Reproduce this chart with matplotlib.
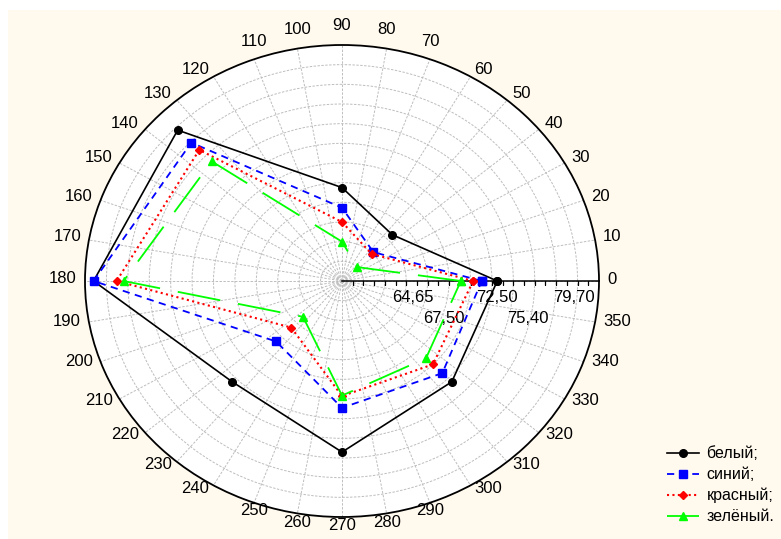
import numpy as np
import matplotlib.pyplot as plt
from matplotlib.patches import Rectangle
from matplotlib.lines import Line2D

plt.rcParams['font.family'] = ['Liberation Sans', 'DejaVu Sans']

# angles (degrees) and values of the four series
angles_deg = [0, 45, 90, 135, 180, 225, 270, 315]
belyi = [72.50, 64.65, 67.50, 79.70, 81.20, 72.50, 75.40, 72.50]
sinii = [71.05, 62.15, 65.45, 77.90, 81.20, 66.70, 70.90, 71.25]
krasnyi = [70.25, 61.90, 64.00, 76.85, 79.05, 64.70, 69.70, 70.00]
zelenyi = [69.10, 60.00, 62.00, 75.20, 78.40, 63.15, 69.65, 69.10]
series_names = ["белый;", "синий;", "красный;", "зелёный."]
r_labels = [64.65, 67.50, 72.50, 75.40, 79.70]
r_min, r_max = 58, 82
theta_labels = list(range(0, 360, 10))

fig = plt.figure(figsize=(7.81, 5.39), dpi=100, facecolor='white')
fig.add_artist(Rectangle((8 / 781, 0), 1, 1 - 10 / 539, transform=fig.transFigure,
                         facecolor='#FFF9EE', edgecolor='none', zorder=-10))

ax = fig.add_axes([85 / 781, 22 / 539, 514 / 781, 472 / 539], projection='polar')
ax.set_aspect('auto')
ax.set_facecolor('white')
ax.set_ylim(r_min, r_max)

ax.set_thetagrids(theta_labels, labels=[])
ax.xaxis.set_minor_locator(plt.FixedLocator(np.deg2rad(np.arange(0, 360, 2))))
ax.tick_params(axis='x', which='major', direction='in', length=6, width=1, colors='black')
ax.tick_params(axis='x', which='minor', direction='in', length=3, width=0.8, colors='black')
ax.set_yticks(np.arange(60, 81, 2))
ax.set_yticklabels([])
ax.grid(True, color='#BDBDBD', linestyle=(0, (2.5, 1.5)), linewidth=0.7)
ax.spines['polar'].set_color('black')
ax.spines['polar'].set_linewidth(1.3)

# angle labels placed just outside the rim
for a in theta_labels:
    t = np.deg2rad(a)
    c, s = np.cos(t), np.sin(t)
    if abs(c) < 0.4:
        ha, ox, oy = 'center', 0, 5 + 14 * s
    else:
        ha, ox, oy = ('left' if c > 0 else 'right'), 8 * c, 2 + 6 * s
    ax.annotate(str(a), xy=(t, r_max), xytext=(ox * 0.72, oy * 0.72), textcoords='offset points',
                ha=ha, va='center', fontsize=12, annotation_clip=False)

# radial axis along 0 degrees
ax.plot([0, 0], [r_min, r_max], color='black', lw=1.1, zorder=3)
ax.plot(np.zeros(r_max - r_min - 1), np.arange(r_min + 1, r_max), ls='none', marker=3,
        ms=3, mew=0.9, color='black', zorder=3)
for i, v in enumerate(r_labels):
    ax.annotate(f"{v:.2f}".replace('.', ','), xy=(0, v), xytext=(0, -12 if i % 2 == 0 else -27),
                textcoords='offset points', ha='center', va='center', fontsize=12)

theta = np.deg2rad(angles_deg + [angles_deg[0]])
styles = [
    (belyi, dict(color='black', ls='-', lw=1.2, marker='o', ms=5.5)),
    (sinii, dict(color='#0000FF', ls=(0, (4, 3)), lw=1.3, marker='s', ms=5.5)),
    (krasnyi, dict(color='#FF0000', ls=(0, (1, 1.6)), lw=1.5, marker='D', ms=4.5)),
    (zelenyi, dict(color='#00FF00', ls=(0, (24, 10)), lw=1.3, marker='^', ms=6)),
]
handles = []
for vals, st in styles:
    ax.plot(theta, vals + [vals[0]], zorder=4, clip_on=False, **st)
    handles.append(Line2D([], [], **st))

fig.legend(handles, series_names, loc='upper left', bbox_to_anchor=(661 / 781, 1 - 440 / 539),
           frameon=False, fontsize=11.5, handlelength=2.0, labelspacing=0.36,
           handletextpad=0.45, borderaxespad=0)

fig.savefig('out.png', dpi=100, facecolor=fig.get_facecolor())
